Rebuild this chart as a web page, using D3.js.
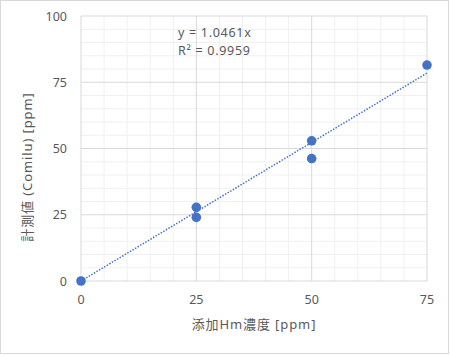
<!DOCTYPE html>
<html><head><meta charset="utf-8">
<script src="https://cdn.jsdelivr.net/npm/d3@7"></script>
<style>body{margin:0;background:#fff}svg{display:block}</style>
</head><body>
<script>
const xValues = [0, 25, 25, 50, 50, 75];
const yValues = [0, 27.8, 24.0, 52.9, 46.2, 81.5];
const slope = 1.0461;
const xTicks = [0, 25, 50, 75];
const yTicks = [0, 25, 50, 75, 100];
const minorStep = 5;
const eqLabel = "y = 1.0461x";
const r2Label = "R² = 0.9959";
const xTitle = "添加Hm濃度 [ppm]";
const yTitle = "計測値 (Comilu) [ppm]";

const W = 450, H = 356;
const svg = d3.select("body").append("svg").attr("width", W).attr("height", H);
const font = "'Noto Sans','Noto Sans CJK JP',sans-serif";
svg.append("rect").attr("x", 0.5).attr("y", 0.5).attr("width", 448).attr("height", 353)
  .attr("fill", "#fff").attr("stroke", "#d9d9d9");

const x = d3.scaleLinear().domain([0, 75]).range([81, 427]);
const y = d3.scaleLinear().domain([0, 100]).range([281, 16]);

const g = svg.append("g");
const minorX = d3.range(0, 75 + 0.01, minorStep).filter(v => v % 25 !== 0);
const minorY = d3.range(0, 100 + 0.01, minorStep).filter(v => v % 25 !== 0);
g.selectAll(".mx").data(minorX).join("line")
  .attr("x1", d => x(d)).attr("x2", d => x(d)).attr("y1", y(0)).attr("y2", y(100))
  .attr("stroke", "#f0f0f0");
g.selectAll(".my").data(minorY).join("line")
  .attr("y1", d => y(d)).attr("y2", d => y(d)).attr("x1", x(0)).attr("x2", x(75))
  .attr("stroke", "#f0f0f0");
g.selectAll(".gx").data(xTicks).join("line")
  .attr("x1", d => x(d)).attr("x2", d => x(d)).attr("y1", y(0)).attr("y2", y(100))
  .attr("stroke", "#d9d9d9");
g.selectAll(".gy").data(yTicks).join("line")
  .attr("y1", d => y(d)).attr("y2", d => y(d)).attr("x1", x(0)).attr("x2", x(75))
  .attr("stroke", "#d9d9d9");

// tick labels
svg.selectAll(".xt").data(xTicks).join("text")
  .attr("x", d => x(d)).attr("y", 304).attr("text-anchor", "middle")
  .attr("font-family", font).attr("font-size", 12.5).attr("fill", "#595959").text(d => d);
svg.selectAll(".yt").data(yTicks).join("text")
  .attr("x", 67).attr("y", d => y(d) + 4.5).attr("text-anchor", "end")
  .attr("font-family", font).attr("font-size", 12.5).attr("fill", "#595959").text(d => d);

// trendline
svg.append("line")
  .attr("x1", x(0)).attr("y1", y(0)).attr("x2", x(75)).attr("y2", y(75 * slope))
  .attr("stroke", "#4472C4").attr("stroke-width", 1.5).attr("stroke-dasharray", "1.5,1.5");

// points
svg.selectAll(".pt").data(xValues.map((v, i) => [v, yValues[i]])).join("circle")
  .attr("cx", d => x(d[0])).attr("cy", d => y(d[1])).attr("r", 4.8).attr("fill", "#4472C4");

// equation
svg.append("text").attr("x", 178).attr("y", 37).attr("font-family", font).attr("font-size", 12.5)
  .attr("letter-spacing", 0.7).attr("fill", "#595959").text(eqLabel);
svg.append("text").attr("x", 178).attr("y", 55).attr("font-family", font).attr("font-size", 12.5)
  .attr("letter-spacing", 0.7).attr("fill", "#595959").text(r2Label);

// axis titles
svg.append("text").attr("x", 254).attr("y", 329).attr("text-anchor", "middle")
  .attr("font-family", font).attr("font-size", 13).attr("letter-spacing", 0.9)
  .attr("fill", "#595959").text(xTitle);
svg.append("text").attr("transform", "translate(32,167) rotate(-90)").attr("text-anchor", "middle")
  .attr("font-family", font).attr("font-size", 13).attr("letter-spacing", 0.9)
  .attr("fill", "#595959").text(yTitle);
</script>
</body></html>
